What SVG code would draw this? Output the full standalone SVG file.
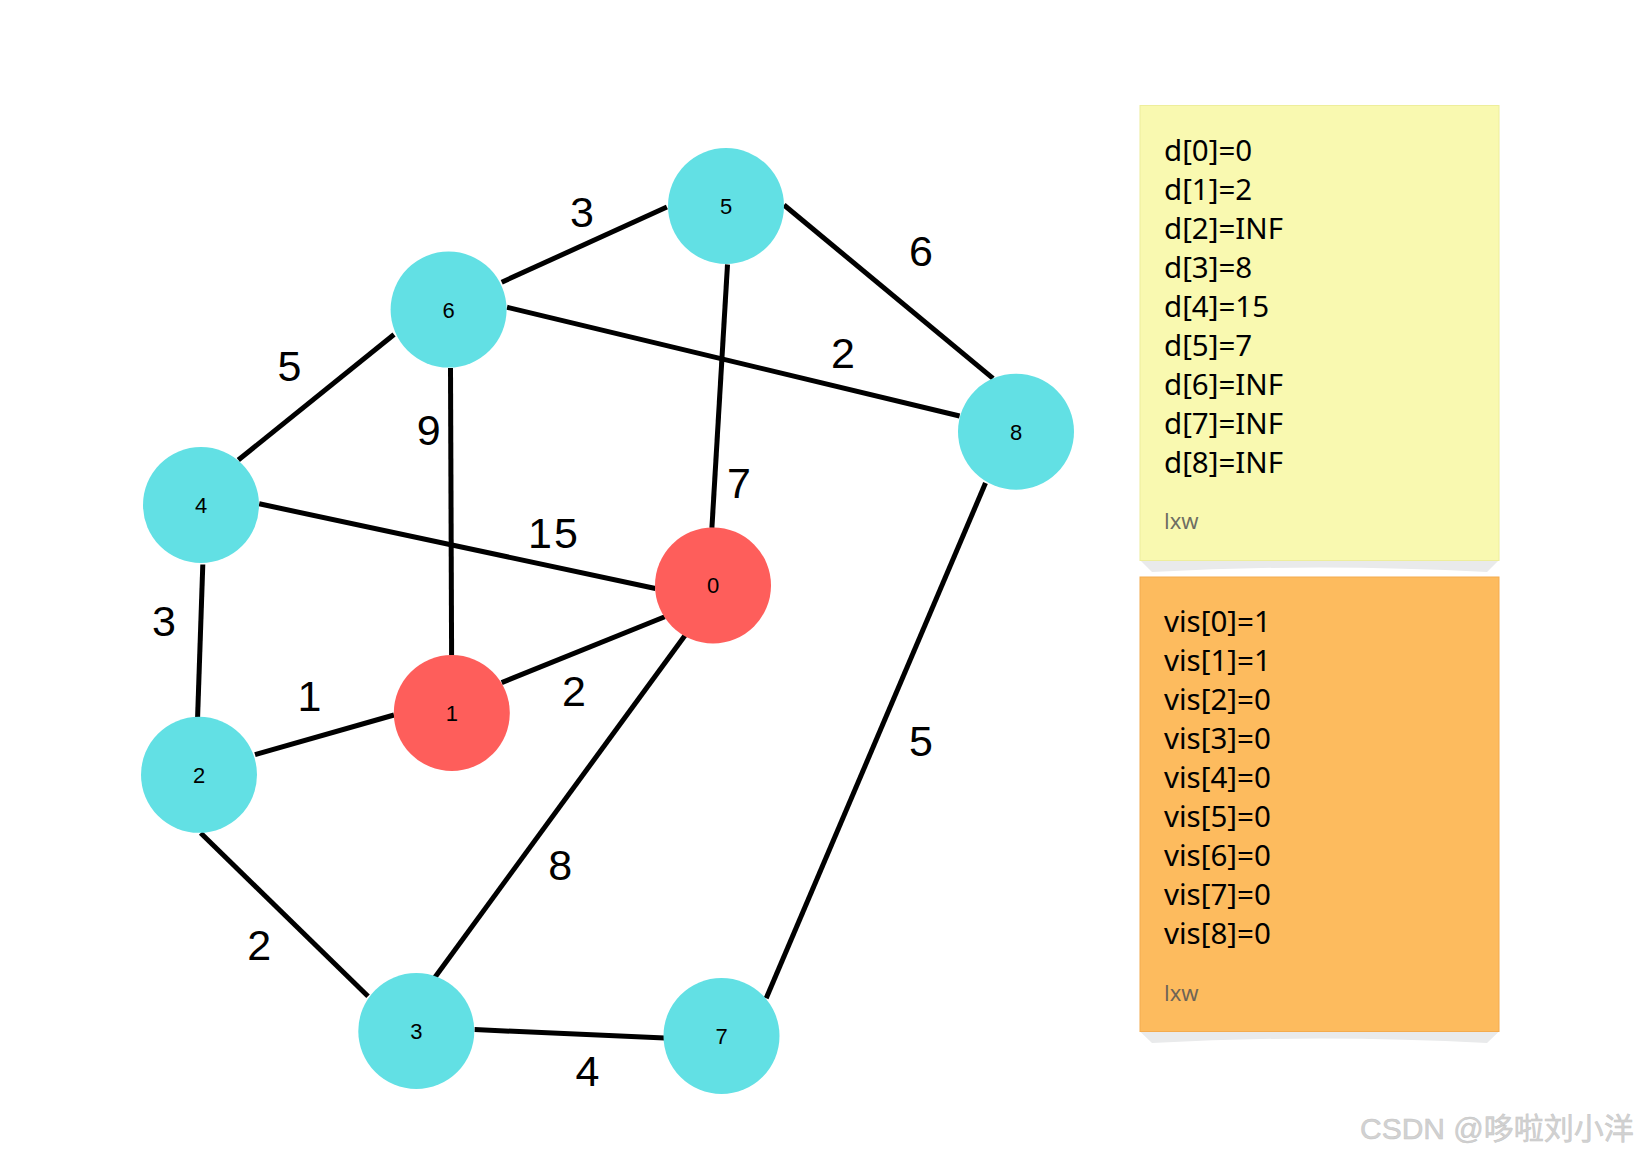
<svg xmlns="http://www.w3.org/2000/svg" width="1639" height="1155" viewBox="0 0 1639 1155">
<style>
.edge{stroke:#000;stroke-width:5;fill:none;stroke-linecap:butt}
.cyan{fill:#62e0e4}
.red{fill:#fe5e5b}
.nl{font-family:"Liberation Sans",Arial,sans-serif;font-size:22px;fill:#000;text-anchor:middle}
.el{font-family:"Liberation Sans",Arial,sans-serif;font-size:43px;fill:#000;text-anchor:middle}
.bt{font-family:"Noto Sans","Liberation Sans",sans-serif;font-size:29.5px;fill:#000}
.sig{font-family:"Noto Sans","Liberation Sans",sans-serif;font-size:22px;fill:#555;fill-opacity:0.85}
.shadow{fill:#e9eaeb}
</style>
<rect width="1639" height="1155" fill="#fff"/>
<g id="connectors">
<line class="edge" x1="501.7" y1="282.2" x2="666.9" y2="207"/>
<line class="edge" x1="784" y1="205" x2="993" y2="378.4"/>
<line class="edge" x1="507" y1="307.3" x2="959.6" y2="416"/>
<line class="edge" x1="727.5" y1="264.5" x2="711.9" y2="527.9"/>
<line class="edge" x1="394" y1="334.5" x2="238.3" y2="460"/>
<line class="edge" x1="450.5" y1="368" x2="451.6" y2="655.4"/>
<line class="edge" x1="259.2" y1="503.8" x2="655.4" y2="588.5"/>
<line class="edge" x1="202.8" y1="564.5" x2="197.6" y2="717"/>
<line class="edge" x1="501.7" y1="682.6" x2="664.8" y2="616.7"/>
<line class="edge" x1="255" y1="754.7" x2="394" y2="715"/>
<line class="edge" x1="200.7" y1="833" x2="368" y2="996.2"/>
<line class="edge" x1="685.7" y1="634.5" x2="434.8" y2="977.4"/>
<line class="edge" x1="474.6" y1="1029.6" x2="664.8" y2="1038"/>
<line class="edge" x1="985.5" y1="483" x2="766.2" y2="998.3"/>
</g>
<g id="edge-labels">
<text class="el" x="582" y="227">3</text>
<text class="el" x="921" y="266">6</text>
<text class="el" x="843" y="368">2</text>
<text class="el" x="289.5" y="381">5</text>
<text class="el" x="428.6" y="445">9</text>
<text class="el" x="739" y="498">7</text>
<text class="el" x="554" y="548" letter-spacing="2">15</text>
<text class="el" x="164" y="636">3</text>
<text class="el" x="309.4" y="711">1</text>
<text class="el" x="574" y="706">2</text>
<text class="el" x="560.3" y="880">8</text>
<text class="el" x="259.2" y="960">2</text>
<text class="el" x="587.5" y="1086">4</text>
<text class="el" x="921" y="756">5</text>
</g>
<g id="node-5"><circle class="cyan" cx="726" cy="206" r="58"/><text class="nl" x="726" y="214">5</text></g>
<g id="node-6"><circle class="cyan" cx="448.6" cy="309.6" r="58"/><text class="nl" x="448.6" y="317.6">6</text></g>
<g id="node-4"><circle class="cyan" cx="201" cy="505" r="58"/><text class="nl" x="201" y="513">4</text></g>
<g id="node-8"><circle class="cyan" cx="1016" cy="431.7" r="58"/><text class="nl" x="1016" y="439.7">8</text></g>
<g id="node-0"><circle class="red" cx="713" cy="585.4" r="58"/><text class="nl" x="713" y="593.4">0</text></g>
<g id="node-1"><circle class="red" cx="451.8" cy="713" r="58"/><text class="nl" x="451.8" y="721">1</text></g>
<g id="node-2"><circle class="cyan" cx="199" cy="774.8" r="58"/><text class="nl" x="199" y="782.8">2</text></g>
<g id="node-3"><circle class="cyan" cx="416.3" cy="1031" r="58"/><text class="nl" x="416.3" y="1039">3</text></g>
<g id="node-7"><circle class="cyan" cx="721.5" cy="1036" r="58"/><text class="nl" x="721.5" y="1044">7</text></g>
<g id="note-d">
<path class="shadow" d="M1140,560 L1499,560 L1487,572 Q1320,563 1152,572 Z"/>
<rect x="1140" y="105.5" width="359" height="455" fill="#f9f9b0" stroke="#eeee9c" stroke-width="1"/>
<text class="bt" x="1164" y="161">d[0]=0</text>
<text class="bt" x="1164" y="200">d[1]=2</text>
<text class="bt" x="1164" y="239">d[2]=INF</text>
<text class="bt" x="1164" y="278">d[3]=8</text>
<text class="bt" x="1164" y="317">d[4]=15</text>
<text class="bt" x="1164" y="356">d[5]=7</text>
<text class="bt" x="1164" y="395">d[6]=INF</text>
<text class="bt" x="1164" y="434">d[7]=INF</text>
<text class="bt" x="1164" y="473">d[8]=INF</text>
<text class="sig" x="1164" y="529">lxw</text>
</g>
<g id="note-vis">
<path class="shadow" d="M1140,1031.5 L1499,1031.5 L1487,1043 Q1320,1034 1152,1043 Z"/>
<rect x="1140" y="577" width="359" height="454.5" fill="#fdbb5e" stroke="#f4ab4e" stroke-width="1"/>
<text class="bt" x="1164" y="632">vis[0]=1</text>
<text class="bt" x="1164" y="671">vis[1]=1</text>
<text class="bt" x="1164" y="710">vis[2]=0</text>
<text class="bt" x="1164" y="749">vis[3]=0</text>
<text class="bt" x="1164" y="788">vis[4]=0</text>
<text class="bt" x="1164" y="827">vis[5]=0</text>
<text class="bt" x="1164" y="866">vis[6]=0</text>
<text class="bt" x="1164" y="905">vis[7]=0</text>
<text class="bt" x="1164" y="944">vis[8]=0</text>
<text class="sig" x="1164" y="1001">lxw</text>
</g>
<text x="1360" y="1139" font-family="'Liberation Sans','Noto Sans CJK SC',sans-serif" font-size="30" fill="#d2d2d2" stroke="#c4c4c4" stroke-width="0.5">CSDN @哆啦刘小洋</text>
</svg>
